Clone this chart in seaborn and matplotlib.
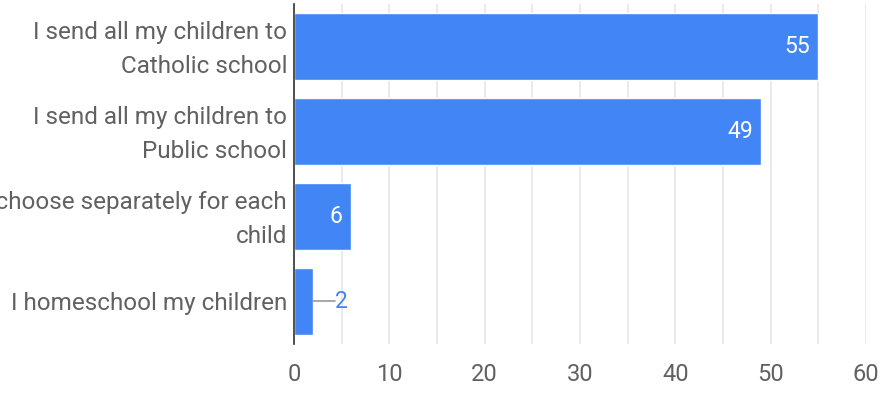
import pandas as pd
import matplotlib
matplotlib.use("Agg")
import matplotlib.pyplot as plt
import matplotlib.transforms as mtransforms
import seaborn as sns

answers = ["I send all my children to\nCatholic school",
           "I send all my children to\nPublic school",
           "I choose separately for each\nchild",
           "I homeschool my children"]
counts = [55, 49, 6, 2]
x_ticks = [0, 10, 20, 30, 40, 50, 60]

df = pd.DataFrame({"answer": answers, "count": counts})

sns.set_style("white")
plt.rcParams['font.family'] = ['Roboto', 'DejaVu Sans']

fig = plt.figure(figsize=(8.89, 3.93), dpi=100)
ax = fig.add_axes([0.3307, 0.1247, 0.6434, 0.8653])

sns.barplot(data=df, y="answer", x="count", orient="h", color="#4285F4",
            width=0.79, saturation=1, ax=ax)

ax.set_xlim(0, 60)
ax.set_ylim(3.5, -0.5)
ax.set_xticks(x_ticks)
ax.set_xticks([5, 15, 25, 35, 45, 55], minor=True)
ax.grid(axis="x", which="both", color="#e6e6e6", linewidth=1.2)
ax.set_axisbelow(True)
ax.tick_params(axis="both", which="both", length=0)
ax.tick_params(axis="x", labelsize=17, labelcolor="#616161", pad=14)
ax.tick_params(axis="y", labelsize=17.5, labelcolor="#616161", pad=5)
# two-line labels sit a bit high in the original
shift = mtransforms.ScaledTranslation(0, 5 / 100, fig.dpi_scale_trans)
for lab in ax.get_yticklabels():
    lab.set_linespacing(1.6)
    if "\n" in lab.get_text():
        lab.set_transform(lab.get_transform() + shift)
ax.set_xlabel("")
ax.set_ylabel("")
for s in ["top", "right", "bottom"]:
    ax.spines[s].set_visible(False)
ax.spines["left"].set_color("#333333")
ax.spines["left"].set_linewidth(1.2)

for i, v in enumerate(counts):
    if v > 4:
        ax.annotate(str(v), xy=(v, i), xytext=(-6, 0), textcoords="offset points",
                    ha="right", va="center", color="white", fontsize=16.5)
    else:
        ax.plot([v, v + 2.3], [i, i], color="#999999", linewidth=1.2)
        ax.annotate(str(v), xy=(v + 2.3, i), ha="left", va="center",
                    color="#4285F4", fontsize=16.5)

fig.savefig("out.png", dpi=100)
